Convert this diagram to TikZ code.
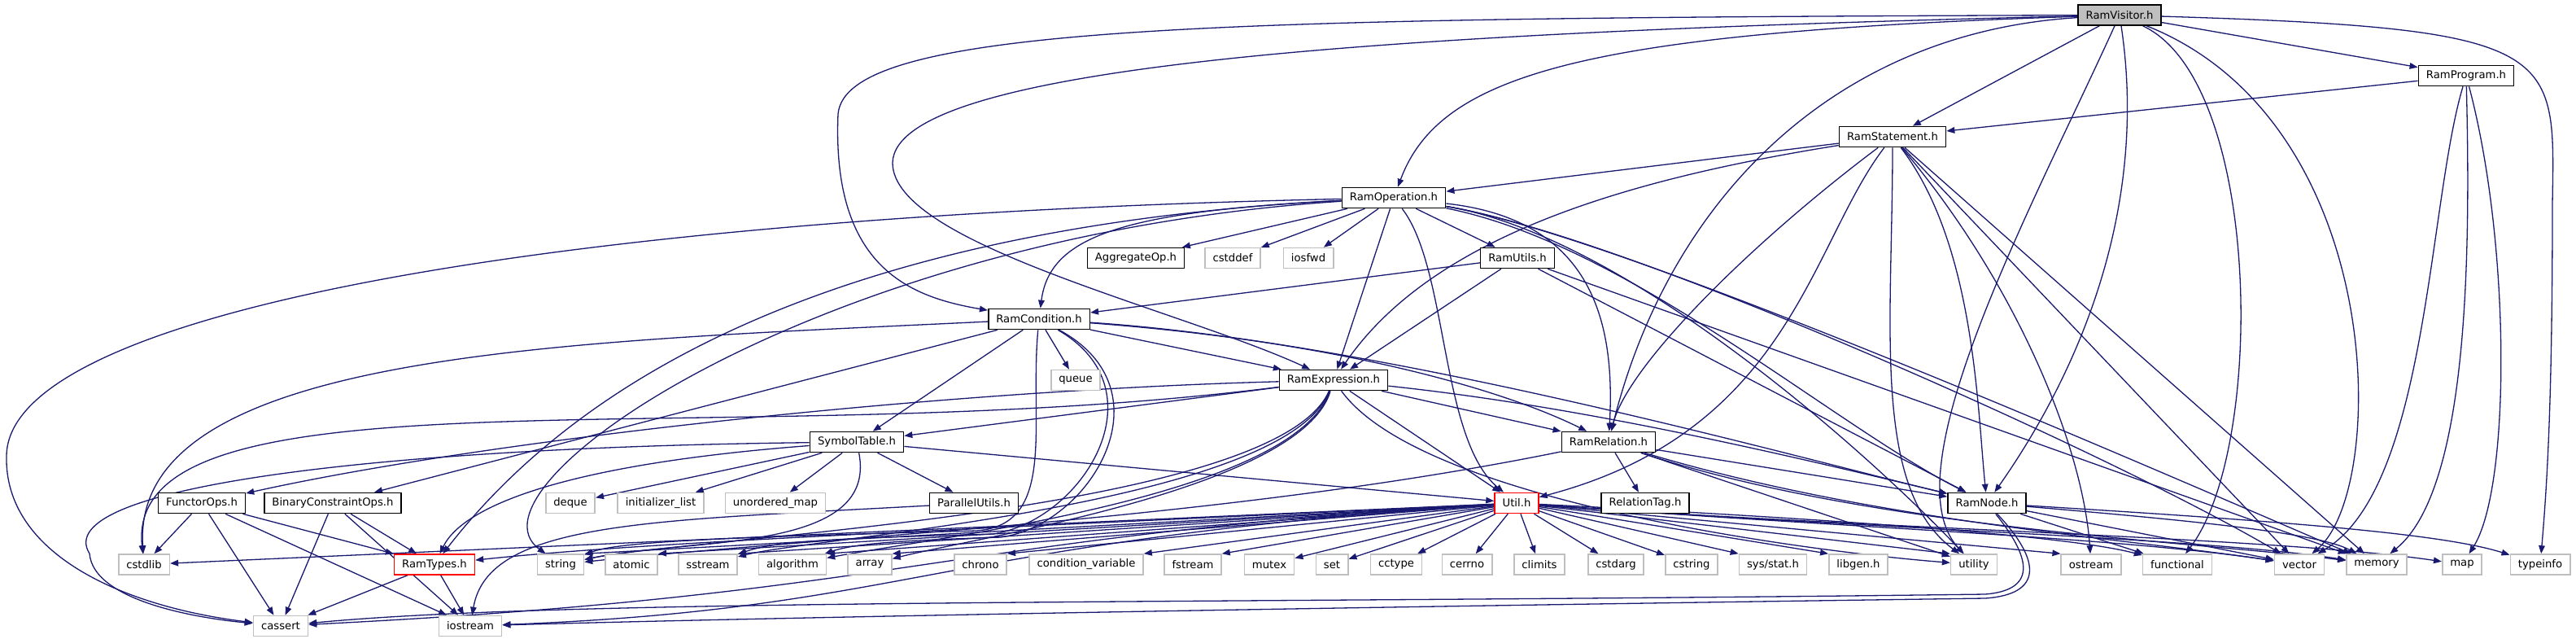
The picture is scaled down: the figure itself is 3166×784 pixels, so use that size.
\documentclass[tikz,border=0pt]{standalone}
\usepackage{fontspec}
\setmainfont{DejaVu Sans}
\usetikzlibrary{arrows.meta,backgrounds}
\definecolor{edgeblue}{HTML}{191970}
\definecolor{sysgrey}{HTML}{BFBFBF}

\begin{document}
\begin{tikzpicture}[x=0.5pt, y=-0.5pt,
	every node/.style={font=\fontsize{6.6}{8}\selectfont},
	hdr/.style={draw=black, fill=white, line width=0.8pt, minimum height=12.5pt, inner xsep=4.8pt, inner ysep=0pt},
	sys/.style={hdr, draw=sysgrey},
	cut/.style={hdr, draw=red},
	dep/.style={draw=edgeblue, line width=0.65pt, -{Triangle[length=5pt,width=3.8pt]}}]
	\useasboundingbox (0,0) rectangle (3166,784);
	\node[hdr, fill=sysgrey] (vis) at (2605,18.5) {RamVisitor.h};
	\node[hdr] (prog) at (3031,93) {RamProgram.h};
	\node[hdr] (stmt) at (2326,168) {RamStatement.h};
	\node[hdr] (op) at (1713,243) {RamOperation.h};
	\node[hdr] (aggop) at (1396,317) {AggregateOp.h};
	\node[sys] (cstddef) at (1515,317) {cstddef};
	\node[sys] (iosfwd) at (1608,317) {iosfwd};
	\node[hdr] (utils) at (1865,317) {RamUtils.h};
	\node[hdr] (cond) at (1277,392) {RamCondition.h};
	\node[sys] (queue) at (1322,467) {queue};
	\node[hdr] (expr) at (1639,467) {RamExpression.h};
	\node[hdr] (symtab) at (1053,543) {SymbolTable.h};
	\node[hdr] (rel) at (1977,543) {RamRelation.h};
	\node[hdr] (functor) at (248,618) {FunctorOps.h};
	\node[hdr] (binop) at (409,618) {BinaryConstraintOps.h};
	\node[sys] (deque) at (701,618) {deque};
	\node[sys] (initlist) at (812,618) {initializer\_list};
	\node[sys] (umap) at (953,618) {unordered\_map};
	\node[hdr] (parallel) at (1197,618) {ParallelUtils.h};
	\node[cut] (util) at (1864,618) {Util.h};
	\node[hdr] (reltag) at (2022,618) {RelationTag.h};
	\node[hdr] (ramnode) at (2442,618) {RamNode.h};
	\node[sys] (cstdlib) at (177,693.5) {cstdlib};
	\node[cut] (types) at (534,693.5) {RamTypes.h};
	\node[sys] (string) at (689,693.5) {string};
	\node[sys] (atomic) at (776,693.5) {atomic};
	\node[sys] (sstream) at (870,693.5) {sstream};
	\node[sys] (algorithm) at (974,693.5) {algorithm};
	\node[sys] (array) at (1069,693.5) {array};
	\node[sys] (chrono) at (1205,693.5) {chrono};
	\node[sys] (condvar) at (1335,693.5) {condition\_variable};
	\node[sys] (fstream) at (1466,693.5) {fstream};
	\node[sys] (mutex) at (1560,693.5) {mutex};
	\node[sys] (set) at (1637,693.5) {set};
	\node[sys] (cctype) at (1716,693.5) {cctype};
	\node[sys] (cerrno) at (1803,693.5) {cerrno};
	\node[sys] (climits) at (1892,693.5) {climits};
	\node[sys] (cstdarg) at (1986,693.5) {cstdarg};
	\node[sys] (cstring) at (2079,693.5) {cstring};
	\node[sys] (sysstat) at (2179,693.5) {sys/stat.h};
	\node[sys] (libgen) at (2284,693.5) {libgen.h};
	\node[sys] (utility) at (2426,693.5) {utility};
	\node[sys] (ostream) at (2570,693.5) {ostream};
	\node[sys] (functional) at (2676,693.5) {functional};
	\node[sys] (vector) at (2826,693.5) {vector};
	\node[sys] (memory) at (2921,693.5) {memory};
	\node[sys] (map) at (3026,693.5) {map};
	\node[sys] (typeinfo) at (3122,693.5) {typeinfo};
	\node[sys] (cassert) at (345,769) {cassert};
	\node[sys] (iostream) at (578,769) {iostream};
	\begin{scope}[on background layer]
		\fill[white] (0,0) rectangle (3166,784);
		\draw[dep] (vis) .. controls (1500,22) and (1040,30) .. (1030,140) .. controls (1022,330) and (1120,365) .. (cond);
		\draw[dep] (vis) .. controls (1700,40) and (1100,80) .. (1097,200) .. controls (1097,300) and (1450,380) .. (expr);
		\draw[dep] (vis) .. controls (1950,40) and (1770,90) .. (op);
		\draw[dep] (vis) -- (stmt);
		\draw[dep] (vis) .. controls (2250,40) and (2050,250) .. (rel);
		\draw[dep] (vis) .. controls (2500,250) and (2320,580) .. (utility);
		\draw[dep] (vis) .. controls (2640,250) and (2560,450) .. (ramnode);
		\draw[dep] (vis) .. controls (2780,100) and (2785,550) .. (functional);
		\draw[dep] (vis) .. controls (2935,150) and (2935,600) .. (vector);
		\draw[dep] (vis) -- (prog);
		\draw[dep] (vis) .. controls (3150,35) and (3140,60) .. (3137,250) .. controls (3137,500) and (3130,600) .. (typeinfo);
		\draw[dep] (prog) -- (stmt);
		\draw[dep] (prog) .. controls (2984,250) and (2984,600) .. (vector);
		\draw[dep] (prog) .. controls (3036,300) and (3036,600) .. (memory);
		\draw[dep] (prog) .. controls (3086,300) and (3086,600) .. (map);
		\draw[dep] (stmt) -- (op);
		\draw[dep] (stmt) .. controls (2000,220) and (1760,290) .. (expr);
		\draw[dep] (stmt) .. controls (2150,300) and (2000,450) .. (rel);
		\draw[dep] (stmt) .. controls (2427,300) and (2430,500) .. (ramnode);
		\draw[dep] (stmt) .. controls (2225,300) and (2200,530) .. (util);
		\draw[dep] (stmt) .. controls (2326,400) and (2300,600) .. (utility);
		\draw[dep] (stmt) .. controls (2480,350) and (2560,550) .. (ostream);
		\draw[dep] (stmt) -- (vector);
		\draw[dep] (stmt) -- (memory);
		\draw[dep] (op) -- (aggop);
		\draw[dep] (op) -- (cstddef);
		\draw[dep] (op) -- (iosfwd);
		\draw[dep] (op) -- (utils);
		\draw[dep] (op) -- (expr);
		\draw[dep] (op) .. controls (1380,260) and (1290,290) .. (cond);
		\draw[dep] (op) .. controls (1780,330) and (1770,540) .. (util);
		\draw[dep] (op) .. controls (1960,270) and (1985,400) .. (rel);
		\draw[dep] (op) .. controls (2000,300) and (2250,520) .. (ramnode);
		\draw[dep] (op) .. controls (2000,290) and (2300,560) .. (utility);
		\draw[dep] (op) .. controls (2000,290) and (2600,560) .. (vector);
		\draw[dep] (op) .. controls (2000,290) and (2700,600) .. (memory);
		\draw[dep] (op) .. controls (700,265) and (10,380) .. (8,560) .. controls (5,680) and (150,745) .. (cassert);
		\draw[dep] (op) .. controls (1000,290) and (560,600) .. (string);
		\draw[dep] (op) .. controls (1000,280) and (700,480) .. (types);
		\draw[dep] (cond) -- (expr);
		\draw[dep] (cond) -- (queue);
		\draw[dep] (cond) -- (symtab);
		\draw[dep] (cond) -- (binop);
		\draw[dep] (cond) .. controls (1650,420) and (1850,480) .. (rel);
		\draw[dep] (cond) .. controls (1700,420) and (2200,560) .. (ramnode);
		\draw[dep] (cond) .. controls (700,420) and (160,430) .. (cstdlib);
		\draw[dep] (cond) .. controls (1265,520) and (1300,645) .. (1200,652) .. controls (900,660) and (760,665) .. (string);
		\draw[dep] (cond) .. controls (1430,480) and (1330,640) .. (1220,656) .. controls (1000,662) and (950,666) .. (sstream);
		\draw[dep] (cond) .. controls (1440,480) and (1340,645) .. (1230,660) .. controls (1100,664) and (1050,668) .. (algorithm);
		\draw[dep] (expr) -- (symtab);
		\draw[dep] (expr) .. controls (1150,480) and (600,540) .. (functor);
		\draw[dep] (expr) .. controls (900,560) and (150,440) .. (cstdlib);
		\draw[dep] (expr) -- (rel);
		\draw[dep] (expr) .. controls (1950,500) and (2200,560) .. (ramnode);
		\draw[dep] (expr) -- (util);
		\draw[dep] (expr) .. controls (1750,620) and (2250,680) .. (utility);
		\draw[dep] (expr) .. controls (1600,600) and (1200,660) .. (array);
		\draw[dep] (expr) .. controls (1590,610) and (1150,660) .. (algorithm);
		\draw[dep] (expr) .. controls (1580,620) and (1000,660) .. (sstream);
		\draw[dep] (expr) .. controls (1570,630) and (850,660) .. (string);
		\draw[dep] (utils) -- (cond);
		\draw[dep] (utils) -- (expr);
		\draw[dep] (utils) -- (ramnode);
		\draw[dep] (utils) -- (memory);
		\draw[dep] (symtab) -- (deque);
		\draw[dep] (symtab) -- (initlist);
		\draw[dep] (symtab) -- (umap);
		\draw[dep] (symtab) -- (parallel);
		\draw[dep] (symtab) -- (util);
		\draw[dep] (symtab) .. controls (700,570) and (570,620) .. (types);
		\draw[dep] (symtab) .. controls (450,550) and (60,600) .. (110,680) .. controls (115,740) and (250,760) .. (cassert);
		\draw[dep] (symtab) .. controls (1080,680) and (850,660) .. (string);
		\draw[dep] (parallel) .. controls (800,640) and (600,640) .. (iostream);
		\draw[dep] (rel) -- (reltag);
		\draw[dep] (rel) -- (ramnode);
		\draw[dep] (rel) .. controls (1500,640) and (1000,660) .. (string);
		\draw[dep] (rel) -- (utility);
		\draw[dep] (rel) .. controls (2300,640) and (2600,660) .. (vector);
		\draw[dep] (rel) .. controls (2300,650) and (2700,665) .. (memory);
		\draw[dep] (ramnode) -- (functional);
		\draw[dep] (ramnode) -- (vector);
		\draw[dep] (ramnode) .. controls (2700,640) and (2850,655) .. (memory);
		\draw[dep] (ramnode) .. controls (2800,640) and (3000,655) .. (typeinfo);
		\draw[dep] (ramnode) .. controls (2500,690) and (2500,725) .. (2440,730) .. controls (1500,742) and (700,735) .. (cassert);
		\draw[dep] (ramnode) .. controls (2510,690) and (2510,730) .. (2440,735) .. controls (1500,748) and (900,760) .. (iostream);
		\foreach \t in {string,atomic,sstream,algorithm,array,chrono,condvar,fstream}
			\draw[dep] (util) -- (\t.north east);
		\foreach \t in {cstdlib,mutex,set,cctype,cerrno,climits,cstdarg,cstring}
			\draw[dep] (util) -- (\t);
		\foreach \t in {sysstat,libgen,utility,ostream}
			\draw[dep] (util) -- (\t.north west);
		\draw[dep] (util) .. controls (1200,650) and (800,665) .. (types);
		\draw[dep] (util) .. controls (2300,640) and (2550,660) .. (functional);
		\draw[dep] (util) .. controls (2300,650) and (2600,660) .. (vector);
		\draw[dep] (util) .. controls (2300,650) and (2700,660) .. (memory);
		\draw[dep] (util) .. controls (2300,650) and (2800,660) .. (map);
		\draw[dep] (util) .. controls (1150,660) and (1120,730) .. (cassert);
		\draw[dep] (util) .. controls (1150,665) and (1120,748) .. (iostream);
		\draw[dep] (functor) -- (cstdlib);
		\draw[dep] (functor) -- (cassert);
		\draw[dep] (functor) -- (iostream);
		\draw[dep] (functor) -- (types);
		\draw[dep] (binop) -- (cassert);
		\draw[dep] (binop) -- (iostream);
		\draw[dep] (binop) -- (types);
		\draw[dep] (types) -- (cassert);
		\draw[dep] (types) -- (iostream);
	\end{scope}
\end{tikzpicture}
\end{document}
